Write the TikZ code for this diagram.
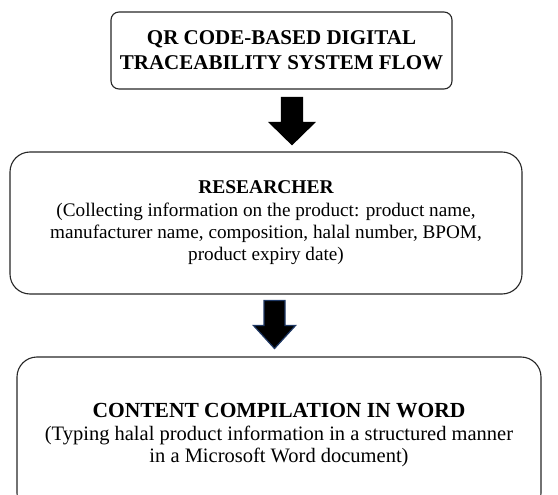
\documentclass[tikz,border=0pt]{standalone}
\usepackage{fontspec}
\setmainfont{Liberation Serif}
\usetikzlibrary{positioning}
\definecolor{arrownavy}{RGB}{31,56,100}
\newcommand{\boxhead}[1]{\fontsize{#1}{25}\selectfont\bfseries}
\newcommand{\boxbody}[1]{\fontsize{#1}{22}\selectfont}
\tikzset{
  flowbox/.style={draw=black!85, line width=1.1pt, rounded corners=#1,
    align=center, inner sep=0pt},
  blockarrow/.style={fill=black, draw=#1, line width=1.2pt, line join=miter}
}

\begin{document}
\begin{tikzpicture}[x=1pt,y=-1pt]
    \useasboundingbox (0,0) rectangle (558,495);
    \clip (0,0) rectangle (558,495);
    % boxes, top to bottom
    \node[flowbox=8pt, minimum width=341pt, minimum height=77pt, font=\boxhead{21}] (flow) at (281.5,50.5)
      {QR CODE-BASED DIGITAL\\ TRACEABILITY SYSTEM FLOW};
    \node[flowbox=20pt, minimum width=512pt, minimum height=142pt, font=\boxbody{19.2}] (researcher) at (266,223)
      {{\boxhead{19.5}RESEARCHER}\\[1pt] (Collecting information on the product: product name,\\
       manufacturer name, composition, halal number, BPOM,\\ product expiry date)};
    \node[flowbox=20pt, minimum width=524pt, minimum height=156pt, font=\boxbody{20.5}] (compile) at (279,435)
      {{\boxhead{21.5}CONTENT COMPILATION IN WORD}\\[1pt] (Typing halal product information in a structured manner\\
       in a Microsoft Word document)};
    % block arrows between the boxes
    \path (flow.south) ++(10.5,8) coordinate (top1);
    \path (researcher.south) ++(8.5,6) coordinate (top2);
    \filldraw[blockarrow=black] (top1) ++(-10.5,0) -- ++(21,0) -- ++(0,25) -- ++(12,0)
      -- ++(-22.5,22) -- ++(-22.5,-22) -- ++(12,0) -- cycle;
    \filldraw[blockarrow=arrownavy] (top2) ++(-10.5,0) -- ++(21,0) -- ++(0,25) -- ++(10.5,0)
      -- ++(-21,23) -- ++(-21,-23) -- ++(10.5,0) -- cycle;
\end{tikzpicture}
\end{document}
